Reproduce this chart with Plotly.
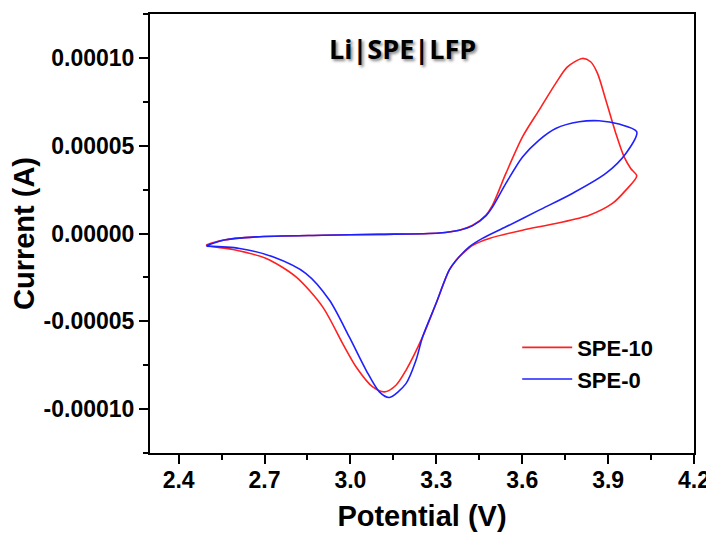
import plotly.graph_objects as go

# SPE-10 (red) cyclic voltammogram: forward then reverse sweep
spe10_v = [2.497, 2.555, 2.671, 2.903, 3.10, 3.31, 3.38, 3.427, 3.473, 3.496, 3.543, 3.601,
           3.659, 3.717, 3.758, 3.81, 3.839, 3.863, 3.892, 3.927, 3.956, 3.979, 4.0,
           3.962, 3.915, 3.834, 3.717, 3.601, 3.485, 3.427, 3.392, 3.369, 3.345, 3.299,
           3.252, 3.194, 3.159, 3.119, 3.078, 3.02, 2.973, 2.903, 2.81, 2.706, 2.589, 2.497]
spe10_i = [-6.7e-6, -3.8e-6, -1.9e-6, -1.0e-6, -0.5e-6, 0.3e-6, 1.9e-6, 4.7e-6, 1.04e-5, 1.6e-5,
           3.42e-5, 5.5e-5, 7.03e-5, 8.55e-5, 9.49e-5, 9.97e-5, 9.78e-5, 9.12e-5, 7.6e-5, 5.7e-5,
           4.36e-5, 3.7e-5, 3.27e-5,
           2.47e-5, 1.71e-5, 1.04e-5, 5.7e-6, 1.9e-6, -2.8e-6, -6.7e-6, -1.14e-5, -1.52e-5,
           -2.09e-5, -3.99e-5, -5.89e-5, -7.79e-5, -8.64e-5, -9.02e-5, -8.74e-5, -7.6e-5,
           -6.27e-5, -4.18e-5, -2.47e-5, -1.42e-5, -9.1e-6, -6.7e-6]

# SPE-0 (blue)
spe0_v = [2.497, 2.555, 2.671, 2.903, 3.10, 3.31, 3.38, 3.427, 3.473, 3.496, 3.543, 3.601,
          3.659, 3.717, 3.799, 3.868, 3.938, 4.0,
          3.962, 3.892, 3.775, 3.659, 3.543, 3.461, 3.415, 3.38, 3.345, 3.299, 3.252, 3.229,
          3.194, 3.136, 3.101, 3.055, 2.996, 2.927, 2.845, 2.729, 2.613, 2.497]
spe0_i = [-7.0e-6, -3.8e-6, -1.9e-6, -1.0e-6, -0.5e-6, 0.3e-6, 1.9e-6, 4.5e-6, 1.0e-5, 1.5e-5,
          2.85e-5, 4.36e-5, 5.32e-5, 5.98e-5, 6.36e-5, 6.42e-5, 6.23e-5, 5.79e-5,
          4.56e-5, 3.42e-5, 2.28e-5, 1.33e-5, 3.8e-6, -2.8e-6, -7.6e-6, -1.33e-5, -2.09e-5,
          -3.99e-5, -5.89e-5, -7.22e-5, -8.55e-5, -9.34e-5, -9.02e-5, -7.79e-5, -5.89e-5,
          -3.8e-5, -2.28e-5, -1.33e-5, -8.5e-6, -7.2e-6]

x_tick_vals = [2.4, 2.7, 3.0, 3.3, 3.6, 3.9, 4.2]
x_tick_text = ["2.4", "2.7", "3.0", "3.3", "3.6", "3.9", "4.2"]
y_tick_vals = [-0.00010, -0.00005, 0.0, 0.00005, 0.00010]
y_tick_text = ["-0.00010", "-0.00005", "0.00000", "0.00005", "0.00010"]

FONT = "Liberation Sans, Arial, sans-serif"

fig = go.Figure()
fig.add_trace(go.Scatter(x=spe10_v, y=spe10_i, mode="lines", name="SPE-10",
                         line=dict(color="#ff2020", width=1.6, shape="spline", smoothing=0.8)))
fig.add_trace(go.Scatter(x=spe0_v, y=spe0_i, mode="lines", name="SPE-0",
                         line=dict(color="#2020ff", width=1.6, shape="spline", smoothing=0.8)))

axis_common = dict(showline=True, linecolor="black", linewidth=2, mirror=True,
                   showgrid=False, zeroline=False, ticks="outside", ticklen=9,
                   tickwidth=2, tickcolor="black", automargin=False,
                   tickfont=dict(family=FONT, size=23, color="black", weight="bold"))

fig.update_xaxes(range=[2.3, 4.2], tickmode="array", tickvals=x_tick_vals, ticktext=x_tick_text,
                 ticklabelstandoff=-4,
                 minor=dict(ticks="outside", tick0=2.4, dtick=0.15, ticklen=5, tickwidth=2,
                            tickcolor="black"),
                 title=dict(text="Potential (V)", standoff=14,
                            font=dict(family=FONT, size=29, color="black", weight="bold")),
                 **axis_common)
fig.update_yaxes(range=[-0.000125, 0.000125], tickmode="array", tickvals=y_tick_vals,
                 ticktext=y_tick_text,
                 minor=dict(ticks="outside", tick0=0, dtick=0.000025, ticklen=5, tickwidth=2,
                            tickcolor="black"),
                 title=dict(text="Current (A)", standoff=8,
                            font=dict(family=FONT, size=29, color="black", weight="bold")),
                 **axis_common)

fig.add_annotation(x=0.465, y=0.9225, xref="paper", yref="paper", showarrow=False,
                   xanchor="center", yanchor="middle",
                   text="Li|SPE|LFP",
                   font=dict(family="Open Sans, sans-serif", size=27, color="black",
                             weight="bold", shadow="2px 2px 3px #888"))

# page body has an 8px default margin, so the figure is 8px smaller than the window
fig.update_layout(
    width=706, height=530,
    margin=dict(l=142, r=20, t=6, b=85),
    paper_bgcolor="white", plot_bgcolor="white",
    showlegend=True,
    legend=dict(x=0.675, y=0.288, xanchor="left", yanchor="top", bgcolor="rgba(0,0,0,0)",
                font=dict(family=FONT, size=22, color="black", weight="bold"),
                tracegroupgap=0, itemwidth=50),
)

fig.write_html("out.html")
